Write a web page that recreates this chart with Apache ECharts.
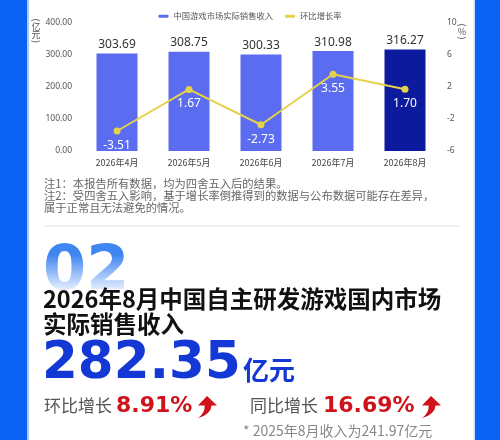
<!DOCTYPE html>
<html>
<head>
<meta charset="utf-8">
<script src="https://cdn.jsdelivr.net/npm/echarts@6/dist/echarts.min.js"></script>
<style>
html,body{margin:0;padding:0;background:#fff;}
#c{width:500px;height:440px;}
</style>
</head>
<body>
<div id="c"></div>
<script>
const categories = ['2026年4月', '2026年5月', '2026年6月', '2026年7月', '2026年8月'];
const revenue = [303.69, 308.75, 300.33, 310.98, 316.27];
const growth = [-3.51, 1.67, -2.73, 3.55, 1.70];
const seriesNames = ['中国游戏市场实际销售收入', '环比增长率'];
const notes = ['注1：本报告所有数据，均为四舍五入后的结果。',
  '注2：受四舍五入影响，基于增长率倒推得到的数据与公布数据可能存在差异，',
  '属于正常且无法避免的情况。'];
const titleLines = ['2026年8月中国自主研发游戏国内市场', '实际销售收入'];
const headline = ['282.35', '亿元'];
const momGrowth = ['环比增长', '8.91%'];
const yoyGrowth = ['同比增长', '16.69%'];
const footnote = ['* 2025年8月收入为241.97亿元'];

const CJK = '"Noto Sans CJK SC","Noto Sans",sans-serif';
const NUM = '"DejaVu Sans",sans-serif';
const BLUE = '#0b63f6';
const barColor = '#5b6cf0';
const barLast = '#0c1a9e';
const lineColor = '#e6d24a';

const chart = echarts.init(document.getElementById('c'), null, {renderer: 'canvas'});

// decorative arrow outline (local coordinates)
const arrowPts = [[10,0],[20,9.5],[14.6,9.5],[13.5,13.7],[10.9,17.1],[6.7,19.9],[1,22],[4.2,19.2],[6.4,16.1],[7.5,12.9],[7.6,9.5],[1,9.5]];

function vlabel(x, y, chars) {
  // vertical unit label: rotated parens around upright characters
  const els = [];
  els.push({type: 'text', x: x, y: y, rotation: -Math.PI / 2, style: {text: '(', font: '9px ' + CJK, fill: '#555', align: 'center', verticalAlign: 'middle'}});
  let cy = y + 6.5;
  chars.forEach(c => {
    els.push({type: 'text', x: x, y: cy, style: {text: c, font: '9px ' + CJK, fill: '#555', align: 'center', verticalAlign: 'middle'}});
    cy += 8.5;
  });
  els.push({type: 'text', x: x, y: cy - 2, rotation: -Math.PI / 2, style: {text: ')', font: '9px ' + CJK, fill: '#555', align: 'center', verticalAlign: 'middle'}});
  return els;
}

const option = {
  backgroundColor: '#ffffff',
  textStyle: {fontFamily: CJK},
  animation: false,
  legend: {
    top: 7,
    left: 'center',
    itemWidth: 10,
    itemHeight: 3,
    itemGap: 12,
    textStyle: {fontSize: 8.3, color: '#555', fontFamily: CJK},
    data: [
      {name: seriesNames[0], icon: 'roundRect', itemStyle: {color: barColor}},
      {name: seriesNames[1], icon: 'roundRect', itemStyle: {color: lineColor}}
    ]
  },
  grid: {left: 81, right: 59, top: 22.5, bottom: 289},
  xAxis: {
    type: 'category',
    data: categories,
    axisLine: {show: false},
    axisTick: {show: false},
    axisLabel: {fontSize: 9, color: '#444', margin: 7, fontFamily: CJK}
  },
  yAxis: [
    {
      type: 'value', min: 0, max: 400, interval: 100,
      splitLine: {show: false},
      axisLine: {show: false}, axisTick: {show: false},
      axisLabel: {fontSize: 8.5, color: '#555', margin: 9, formatter: v => v.toFixed(2), fontFamily: '"Noto Sans",sans-serif'}
    },
    {
      type: 'value', min: -6, max: 10, interval: 4,
      splitLine: {show: false},
      axisLine: {show: false}, axisTick: {show: false},
      axisLabel: {fontSize: 8.5, color: '#555', margin: 6, fontFamily: '"Noto Sans",sans-serif'}
    }
  ],
  series: [
    {
      name: seriesNames[0],
      type: 'bar',
      barWidth: 41,
      data: revenue.map((v, i) => ({value: v, itemStyle: {color: i === revenue.length - 1 ? barLast : barColor}})),
      label: {show: true, position: 'top', distance: 3, fontSize: 12, color: '#333', fontFamily: '"Noto Sans",sans-serif', formatter: p => p.value.toFixed(2)}
    },
    {
      name: seriesNames[1],
      type: 'line',
      yAxisIndex: 1,
      data: growth,
      symbol: 'circle',
      symbolSize: 7,
      lineStyle: {color: lineColor, width: 2},
      itemStyle: {color: lineColor},
      label: {show: true, position: 'bottom', distance: 5, fontSize: 12, color: '#ffffff', fontFamily: '"Noto Sans",sans-serif', formatter: p => p.value.toFixed(2)}
    }
  ],
  graphic: [
    {type: 'rect', shape: {x: 0, y: 0, width: 27, height: 440}, style: {fill: BLUE}, z: 10},
    {type: 'rect', shape: {x: 27, y: 0, width: 2, height: 440}, style: {fill: '#a9cbff'}, z: 10},
    {type: 'rect', shape: {x: 475, y: 0, width: 25, height: 440}, style: {fill: BLUE}, z: 10},
    {type: 'rect', shape: {x: 473.5, y: 0, width: 1.5, height: 440}, style: {fill: '#cfe1ff'}, z: 10},
    // unit labels
    ...vlabel(36, 20, ['亿', '元']),
    ...vlabel(462, 25, ['%']),
    // notes
    {type: 'text', x: 44, y: 178, style: {text: notes[0], font: '11.3px ' + CJK, fill: '#666'}},
    {type: 'text', x: 44, y: 190, style: {text: notes[1], font: '11.3px ' + CJK, fill: '#666'}},
    {type: 'text', x: 44, y: 202, style: {text: notes[2], font: '11.3px ' + CJK, fill: '#666'}},
    {type: 'line', shape: {x1: 44, y1: 226, x2: 460, y2: 226}, style: {stroke: '#dde3ea', lineWidth: 1}},
    // big 02
    {type: 'text', x: 43, y: 242, z: 1, style: {text: '02', font: 'bold 62px ' + NUM, fill: '#3f86f2'}},
    {type: 'rect', z: 2, shape: {x: 40, y: 255, width: 100, height: 40},
      style: {fill: new echarts.graphic.LinearGradient(0, 0, 0, 1, [
        {offset: 0, color: 'rgba(255,255,255,0)'}, {offset: 1, color: 'rgba(255,255,255,1)'}])}},
    // title
    {type: 'text', z: 5, x: 43, y: 287, style: {text: titleLines[0], font: 'bold 23.5px ' + CJK, fill: '#111'}},
    {type: 'text', z: 5, x: 43, y: 312, style: {text: titleLines[1], font: 'bold 23.5px ' + CJK, fill: '#111'}},
    // headline
    {type: 'text', z: 5, x: 42, y: 339, style: {text: headline[0], font: 'bold 51.5px ' + NUM, fill: '#1438d6'}},
    {type: 'text', z: 5, x: 243, y: 357, style: {text: headline[1], font: 'bold 26px ' + CJK, fill: '#1438d6'}},
    // growth
    {type: 'text', x: 44, y: 397, style: {text: momGrowth[0], font: '17px ' + CJK, fill: '#555'}},
    {type: 'text', x: 116, y: 395, style: {text: momGrowth[1], font: 'bold 22px ' + NUM, fill: '#d0121b'}},
    {type: 'polygon', x: 197, y: 396, shape: {points: arrowPts}, style: {fill: '#d0121b'}},
    {type: 'text', x: 250, y: 397, style: {text: yoyGrowth[0], font: '17px ' + CJK, fill: '#555'}},
    {type: 'text', x: 323, y: 395, style: {text: yoyGrowth[1], font: 'bold 22px ' + NUM, fill: '#d0121b'}},
    {type: 'polygon', x: 421, y: 396, shape: {points: arrowPts}, style: {fill: '#d0121b'}},
    {type: 'text', x: 243, y: 424, style: {text: footnote[0], font: '14px ' + CJK, fill: '#888'}}
  ]
};
chart.setOption(option);
</script>
</body>
</html>
